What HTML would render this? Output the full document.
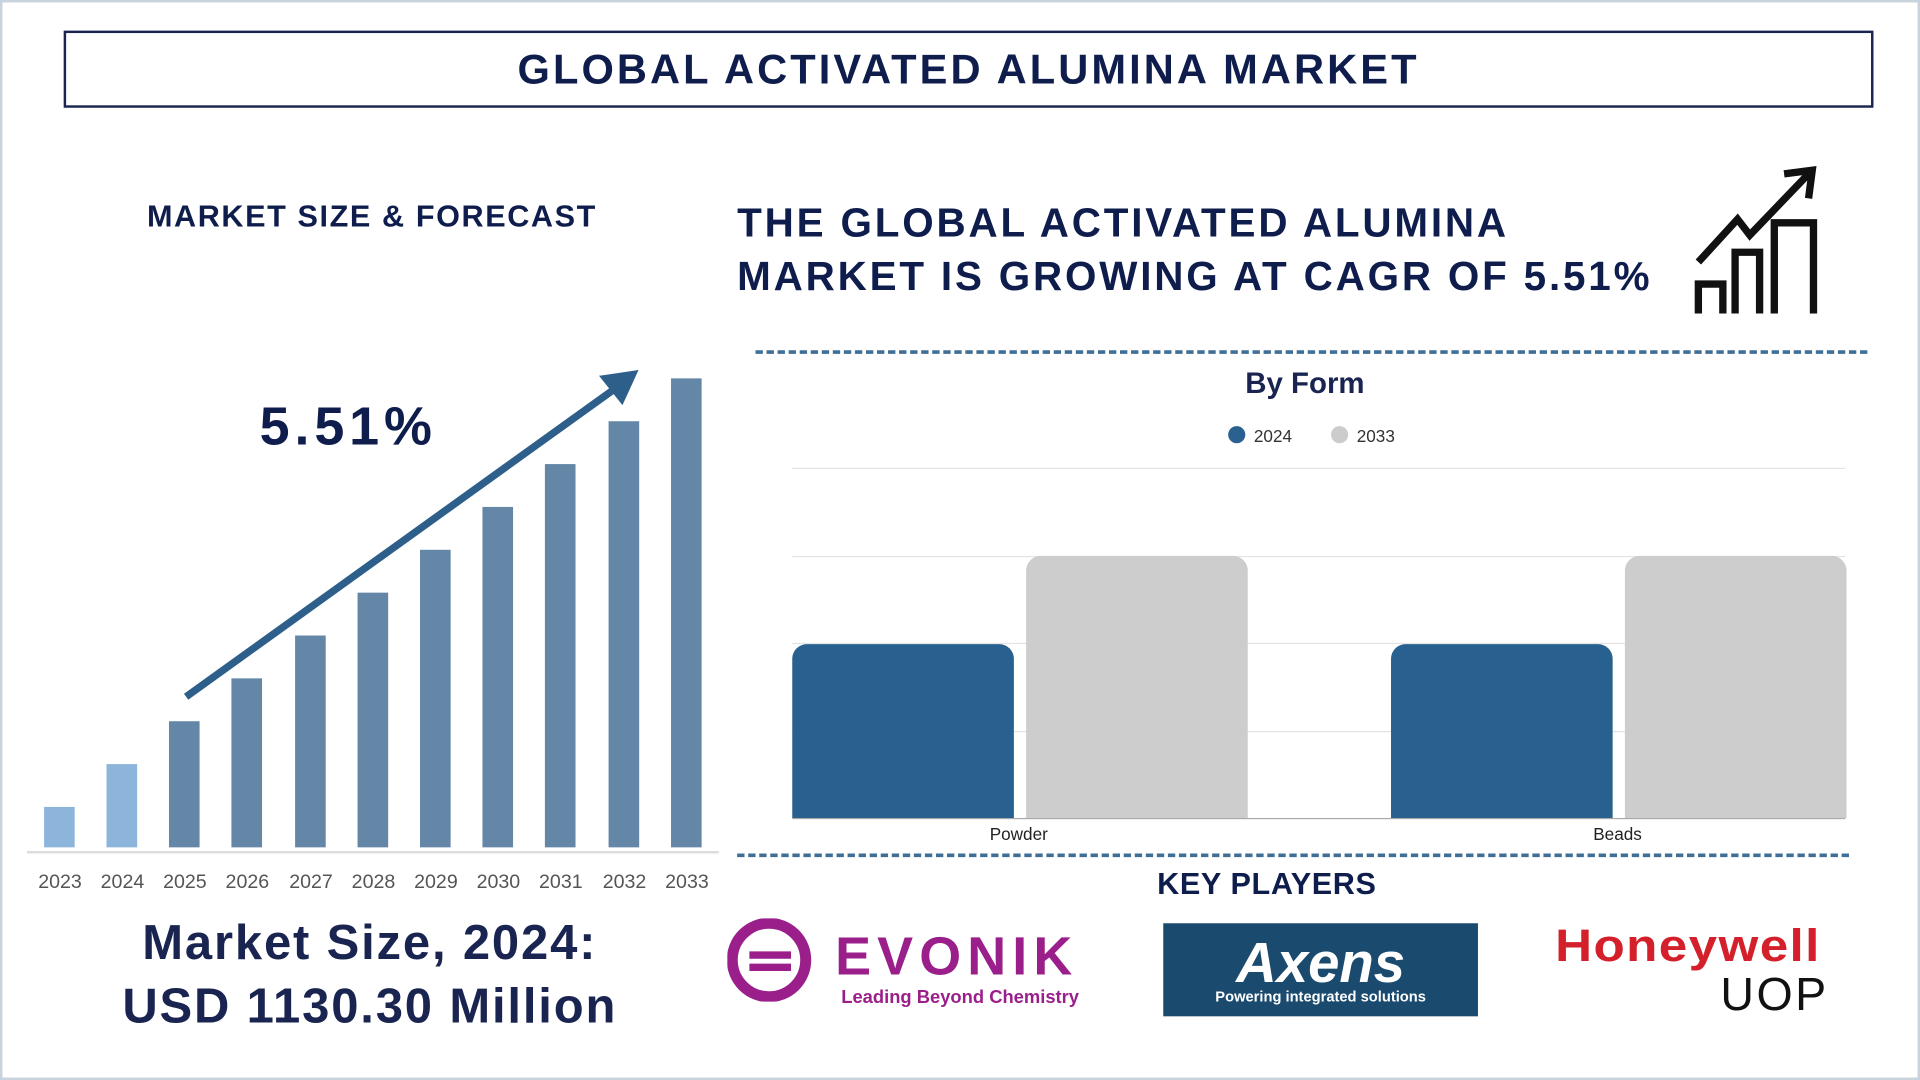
<!DOCTYPE html>
<html><head><meta charset="utf-8"><style>
html,body{margin:0;padding:0;width:1920px;height:1080px;overflow:hidden;background:#fff}
#s{position:absolute;left:0;top:0;width:1568px;height:882px;transform:scale(1.22449);transform-origin:0 0;font-family:"Liberation Sans",sans-serif;border:2px solid #c9d3de;box-sizing:border-box}
.a{position:absolute}
.t{color:#0f1d4d;font-weight:bold}
.bar{position:absolute;bottom:188px;width:25px;background:#6486a7}
.yr{position:absolute;top:710px;font-size:16px;color:#555;width:50px;text-align:center}
</style></head><body><div id="s">
<div class="a" style="left:50px;top:23px;width:1474px;height:59px;border:2px solid #1a2450"></div>
<div class="a t" style="left:50px;top:36px;width:1478px;text-align:center;font-size:34px;letter-spacing:2.5px">GLOBAL ACTIVATED ALUMINA MARKET</div>
<div class="a t" style="left:118px;top:161px;font-size:25px;letter-spacing:1.3px">MARKET SIZE &amp; FORECAST</div>
<div class="a t" style="left:600px;top:158px;font-size:33px;line-height:44px;letter-spacing:2.3px">THE GLOBAL ACTIVATED ALUMINA<br>MARKET IS GROWING AT CAGR OF 5.51%</div>
<svg class="a" style="left:1375px;top:132px" width="115" height="130" fill="none" stroke="#111" stroke-width="6">
<path d="M10 80 L42 45 L52 58 L100 8"/><path d="M80 8 L103 5 L100 28"/>
<path d="M10 122 V98 H30 V122"/><path d="M40 122 V72 H60 V122"/><path d="M72 122 V48 H104 V122"/></svg>
<div class="a" style="left:20px;top:693px;width:565px;height:2px;background:#ddd"></div>
<div class="bar" style="left:34px;height:33px;background:#8db5dc"></div>
<div class="bar" style="left:85px;height:68px;background:#8db5dc"></div>
<div class="bar" style="left:136px;height:103px"></div>
<div class="bar" style="left:187px;height:138px"></div>
<div class="bar" style="left:239px;height:173px"></div>
<div class="bar" style="left:290px;height:208px"></div>
<div class="bar" style="left:341px;height:243px"></div>
<div class="bar" style="left:392px;height:278px"></div>
<div class="bar" style="left:443px;height:313px"></div>
<div class="bar" style="left:495px;height:348px"></div>
<div class="bar" style="left:546px;height:383px"></div>
<div class="yr" style="left:22px">2023</div><div class="yr" style="left:73px">2024</div><div class="yr" style="left:124px">2025</div><div class="yr" style="left:175px">2026</div><div class="yr" style="left:227px">2027</div><div class="yr" style="left:278px">2028</div><div class="yr" style="left:329px">2029</div><div class="yr" style="left:380px">2030</div><div class="yr" style="left:431px">2031</div><div class="yr" style="left:483px">2032</div><div class="yr" style="left:534px">2033</div>
<svg class="a" style="left:0;top:0" width="600" height="700"><path d="M150 567 L505 312" stroke="#2d5f8a" stroke-width="6"/><path d="M490 306 L517 302 L506 326 Z" fill="#2d5f8a" stroke="#2d5f8a" stroke-width="3"/></svg>
<div class="a t" style="left:210px;top:322px;font-size:44px;letter-spacing:4px">5.51%</div>
<div class="a t" style="left:40px;top:742px;width:520px;text-align:center;font-size:40px;line-height:52px;color:#1a2450;letter-spacing:1.5px">Market Size, 2024:<br>USD 1130.30 Million</div>
<div class="a" style="left:615px;top:284px;width:908px;border-top:3px dashed #3f6f96"></div>
<div class="a" style="left:600px;top:695px;width:908px;border-top:3px dashed #3f6f96"></div>
<div class="a t" style="left:1015px;top:298px;font-size:24px;color:#1a2450">By Form</div>
<div class="a" style="left:1001px;top:346px;width:14px;height:14px;border-radius:7px;background:#2a6190"></div>
<div class="a" style="left:1022px;top:346px;font-size:14px;color:#333">2024</div>
<div class="a" style="left:1085px;top:346px;width:14px;height:14px;border-radius:7px;background:#ccc"></div>
<div class="a" style="left:1106px;top:346px;font-size:14px;color:#333">2033</div>
<div class="a" style="left:645px;top:380px;width:860px;height:1px;background:#e4e4e4"></div>
<div class="a" style="left:645px;top:452px;width:860px;height:1px;background:#e4e4e4"></div>
<div class="a" style="left:645px;top:523px;width:860px;height:1px;background:#e4e4e4"></div>
<div class="a" style="left:645px;top:595px;width:860px;height:1px;background:#e4e4e4"></div>
<div class="a" style="left:645px;top:666px;width:860px;height:1px;background:#aaa"></div>
<div class="a" style="left:645px;top:524px;width:181px;height:142px;background:#28618f;border-radius:12px 12px 0 0"></div>
<div class="a" style="left:836px;top:452px;width:181px;height:214px;background:#cdcdcd;border-radius:12px 12px 0 0"></div>
<div class="a" style="left:1134px;top:524px;width:181px;height:142px;background:#28618f;border-radius:12px 12px 0 0"></div>
<div class="a" style="left:1325px;top:452px;width:181px;height:214px;background:#cdcdcd;border-radius:12px 12px 0 0"></div>
<div class="a" style="left:780px;top:671px;width:100px;text-align:center;font-size:14px;color:#222">Powder</div>
<div class="a" style="left:1269px;top:671px;width:100px;text-align:center;font-size:14px;color:#222">Beads</div>
<div class="a t" style="left:943px;top:706px;font-size:25px;letter-spacing:0.5px">KEY PLAYERS</div>
<svg class="a" style="left:592px;top:748px" width="72" height="68"><circle cx="34" cy="34" r="30" fill="none" stroke="#9b1f8a" stroke-width="9"/><path d="M18 30 H52 M18 40 H52" stroke="#9b1f8a" stroke-width="6"/></svg>
<div class="a" style="left:680px;top:755px;font-size:44px;font-weight:bold;color:#9b1f8a;letter-spacing:5px">EVONIK</div>
<div class="a" style="left:685px;top:804px;font-size:15px;font-weight:bold;color:#9b1f8a">Leading Beyond Chemistry</div>
<div class="a" style="left:948px;top:752px;width:257px;height:76px;background:#1a4a6e"></div>
<div class="a" style="left:948px;top:757px;width:257px;text-align:center;font-size:46px;font-weight:bold;font-style:italic;color:#fff">Axens</div>
<div class="a" style="left:948px;top:805px;width:257px;text-align:center;font-size:12px;font-weight:bold;color:#fff">Powering integrated solutions</div>
<div class="a" style="left:1268px;top:750px;font-size:37px;font-weight:bold;color:#d4202a;letter-spacing:1px;transform:scaleX(1.13);transform-origin:0 0">Honeywell</div>
<div class="a" style="left:1403px;top:790px;font-size:38px;color:#111;letter-spacing:2px">UOP</div>
</div></body></html>
